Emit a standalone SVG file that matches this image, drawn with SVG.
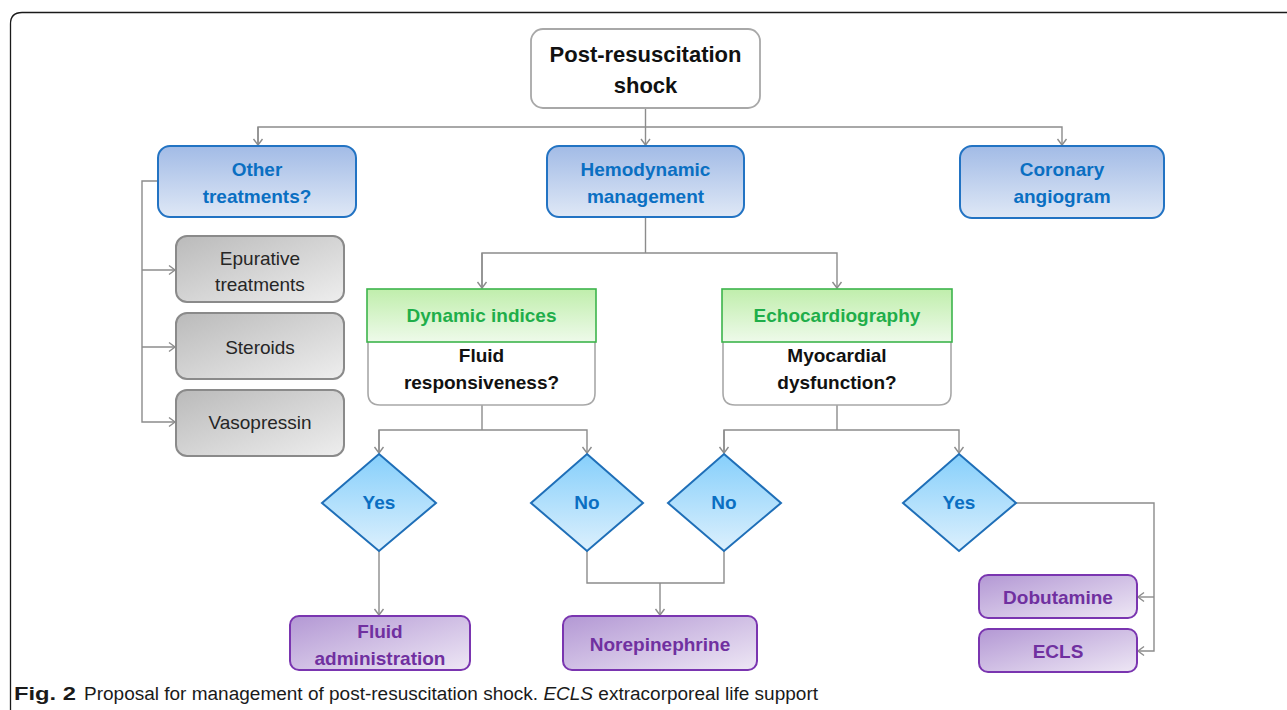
<svg xmlns="http://www.w3.org/2000/svg" width="1287" height="710" viewBox="0 0 1287 710">
<style>
.b{font-family:"Liberation Sans",Arial,sans-serif;font-weight:bold;text-anchor:middle}
.r{font-family:"Liberation Sans",Arial,sans-serif;text-anchor:middle}
.blue{fill:#0a6fc2;font-size:19px}
.grn{fill:#1fae4a;font-size:19px}
.blk{fill:#111;font-size:19px}
.pur{fill:#7030a0;font-size:19px}
.gry{fill:#262626;font-size:19px}
.con{fill:none;stroke:#8c8c8c;stroke-width:1.4}
.bbox{fill:url(#gBlue);stroke:#2273c3;stroke-width:2}
.gbox{fill:url(#gGray);stroke:#8a8a8a;stroke-width:2}
.pbox{fill:url(#gPur);stroke:#7a35b0;stroke-width:2}
.dia{fill:url(#gDia);stroke:#1f6fb8;stroke-width:2}
.hdr{fill:url(#gGrn);stroke:#3cb44b;stroke-width:1.6}
.low{fill:#fff;stroke:#a8a8a8;stroke-width:1.6}
.cap{font-family:"Liberation Sans Narrow","Liberation Sans",Arial,sans-serif;font-size:18px;fill:#1a1a1a}
</style>
<defs>
<linearGradient id="gBlue" x1="0" y1="0" x2="0" y2="1"><stop offset="0" stop-color="#a2bbe6"/><stop offset="1" stop-color="#dfe8f6"/></linearGradient>
<linearGradient id="gGrn" x1="0" y1="0" x2="0" y2="1"><stop offset="0" stop-color="#c0eeac"/><stop offset="1" stop-color="#eefaea"/></linearGradient>
<linearGradient id="gDia" x1="0" y1="0" x2="0" y2="1"><stop offset="0" stop-color="#86cffb"/><stop offset="1" stop-color="#dcf0fd"/></linearGradient>
<linearGradient id="gPur" x1="0" y1="0" x2="1" y2="1"><stop offset="0" stop-color="#b398d4"/><stop offset="1" stop-color="#eee7f5"/></linearGradient>
<linearGradient id="gGray" x1="0" y1="0" x2="1" y2="1"><stop offset="0" stop-color="#bababa"/><stop offset="1" stop-color="#eeeeee"/></linearGradient>
<marker id="arr" viewBox="-8 -6 10 12" markerWidth="10" markerHeight="12" refX="0" refY="0" orient="auto" markerUnits="userSpaceOnUse"><path d="M-6,-4.5 L0,0 L-6,4.5" fill="none" stroke="#8c8c8c" stroke-width="1.4"/></marker>
</defs>
<rect width="1287" height="710" fill="#fff"/>
<path d="M10.5,720 V24 Q10.5,12.5 22,12.5 H1300" fill="none" stroke="#1a1a1a" stroke-width="1.3"/>

<g id="connectors">
<path class="con" d="M645.5,108 V145" marker-end="url(#arr)"/>
<path class="con" d="M258,145 V127 H1062 V145" marker-end="url(#arr)"/>
<path class="con" d="M258,127 V145" marker-end="url(#arr)"/>
<path class="con" d="M158,181 H142 V422 H175" marker-end="url(#arr)"/>
<path class="con" d="M142,270 H175" marker-end="url(#arr)"/>
<path class="con" d="M142,347 H175" marker-end="url(#arr)"/>
<path class="con" d="M645.5,217 V253"/>
<path class="con" d="M482,288 V253 H837 V288" marker-end="url(#arr)"/>
<path class="con" d="M482,253 V288" marker-end="url(#arr)"/>
<path class="con" d="M482,405 V430"/>
<path class="con" d="M379,453 V430 H587 V453" marker-end="url(#arr)"/>
<path class="con" d="M379,430 V453" marker-end="url(#arr)"/>
<path class="con" d="M837,405 V430"/>
<path class="con" d="M724,453 V430 H959 V453" marker-end="url(#arr)"/>
<path class="con" d="M724,430 V453" marker-end="url(#arr)"/>
<path class="con" d="M379,551 V615" marker-end="url(#arr)"/>
<path class="con" d="M587,551 V583 H724 V551"/>
<path class="con" d="M660,583 V615" marker-end="url(#arr)"/>
<path class="con" d="M1016,503 H1154 V651 H1138" marker-end="url(#arr)"/>
<path class="con" d="M1154,597 H1138" marker-end="url(#arr)"/>
</g>

<g id="n-shock">
<rect x="531" y="29" width="229" height="79" rx="12" fill="#fff" stroke="#a8a8a8" stroke-width="1.8"/>
<text class="b" x="645.5" y="62" font-size="22" fill="#111">Post-resuscitation</text>
<text class="b" x="645.5" y="93" font-size="22" fill="#111">shock</text>
</g>

<g id="n-other">
<rect class="bbox" x="158" y="146" width="198" height="71" rx="12"/>
<text class="b blue" x="257" y="176">Other</text>
<text class="b blue" x="257" y="203">treatments?</text>
</g>
<g id="n-hemo">
<rect class="bbox" x="547" y="146" width="197" height="71" rx="12"/>
<text class="b blue" x="645.5" y="176">Hemodynamic</text>
<text class="b blue" x="645.5" y="203">management</text>
</g>
<g id="n-coronary">
<rect class="bbox" x="960" y="146" width="204" height="72" rx="12"/>
<text class="b blue" x="1062" y="176">Coronary</text>
<text class="b blue" x="1062" y="203">angiogram</text>
</g>

<g id="n-epurative">
<rect class="gbox" x="176" y="236" width="168" height="66" rx="11"/>
<text class="r gry" x="260" y="265">Epurative</text>
<text class="r gry" x="260" y="291">treatments</text>
</g>
<g id="n-steroids">
<rect class="gbox" x="176" y="313" width="168" height="66" rx="11"/>
<text class="r gry" x="260" y="354">Steroids</text>
</g>
<g id="n-vaso">
<rect class="gbox" x="176" y="390" width="168" height="66" rx="11"/>
<text class="r gry" x="260" y="429">Vasopressin</text>
</g>

<g id="n-dynamic">
<path class="low" d="M368,342 V393 Q368,405 380,405 H583 Q595,405 595,393 V342"/>
<rect class="hdr" x="367" y="289" width="229" height="53"/>
<text class="b grn" x="481.5" y="322">Dynamic indices</text>
<text class="b blk" x="481.5" y="362">Fluid</text>
<text class="b blk" x="481.5" y="389">responsiveness?</text>
</g>
<g id="n-echo">
<path class="low" d="M723,342 V393 Q723,405 735,405 H939 Q951,405 951,393 V342"/>
<rect class="hdr" x="722" y="289" width="230" height="53"/>
<text class="b grn" x="837" y="322">Echocardiography</text>
<text class="b blk" x="837" y="362">Myocardial</text>
<text class="b blk" x="837" y="389">dysfunction?</text>
</g>

<g id="n-yes1">
<polygon class="dia" points="379,454 436,503 379,551 322,503"/>
<text class="b blue" x="379" y="509">Yes</text>
</g>
<g id="n-no1">
<polygon class="dia" points="587,454 643,503 587,551 531,503"/>
<text class="b blue" x="587" y="509">No</text>
</g>
<g id="n-no2">
<polygon class="dia" points="724,454 781,503 724,551 668,503"/>
<text class="b blue" x="724" y="509">No</text>
</g>
<g id="n-yes2">
<polygon class="dia" points="959,454 1016,503 959,551 903,503"/>
<text class="b blue" x="959" y="509">Yes</text>
</g>

<g id="n-fluid">
<rect class="pbox" x="290" y="616" width="180" height="54" rx="9"/>
<text class="b pur" x="380" y="638">Fluid</text>
<text class="b pur" x="380" y="665">administration</text>
</g>
<g id="n-norepi">
<rect class="pbox" x="563" y="616" width="194" height="54" rx="9"/>
<text class="b pur" x="660" y="651">Norepinephrine</text>
</g>
<g id="n-dobu">
<rect class="pbox" x="979" y="575" width="158" height="43" rx="9"/>
<text class="b pur" x="1058" y="604">Dobutamine</text>
</g>
<g id="n-ecls">
<rect class="pbox" x="979" y="629" width="158" height="43" rx="9"/>
<text class="b pur" x="1058" y="658">ECLS</text>
</g>

<g id="caption">
<text class="cap" x="14" y="700" font-weight="bold" textLength="62" lengthAdjust="spacingAndGlyphs">Fig. 2</text>
<text class="cap" x="84" y="700" textLength="734" lengthAdjust="spacingAndGlyphs">Proposal for management of post-resuscitation shock. <tspan font-style="italic">ECLS</tspan> extracorporeal life support</text>
</g>
</svg>
